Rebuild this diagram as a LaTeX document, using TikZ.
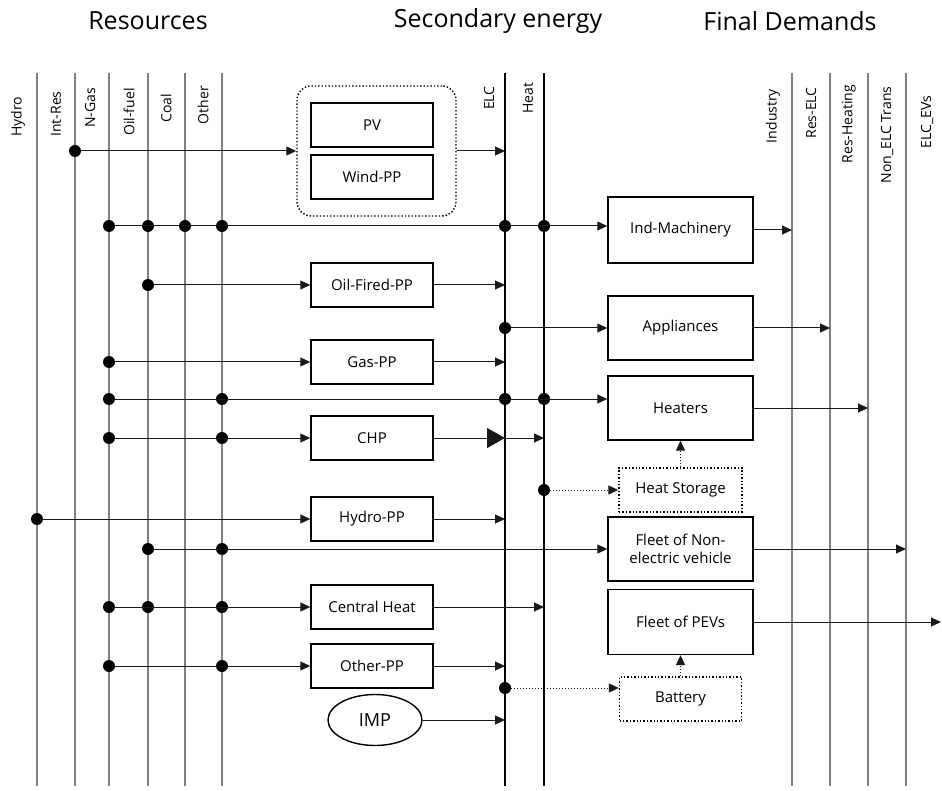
\documentclass[tikz,border=0pt]{standalone}
\usepackage{fontspec}
\setmainfont{Open Sans}
\usetikzlibrary{arrows.meta, shapes.geometric, positioning, calc}
\definecolor{LineGray}{RGB}{128,128,128}
\definecolor{FlowBlack}{RGB}{25,25,25}

\begin{document}
\begin{tikzpicture}[x=1pt,y=-1pt,
    font=\fontsize{15}{18}\selectfont,
    box/.style={draw, line width=1.4pt, minimum width=122pt, minimum height=44pt, inner sep=0pt},
    bigbox/.style={box, minimum width=145pt, minimum height=64pt, align=center},
    storebox/.style={box, dotted, minimum width=123pt},
    jdot/.style={circle, fill, inner sep=0pt, minimum size=12pt},
    flow/.style={-{Triangle[length=10pt,width=9pt]}, FlowBlack, line width=1pt},
    dflow/.style={flow, dotted},
    bigflow/.style={-{Triangle[length=18pt,width=20pt]}, FlowBlack, line width=1pt},
    resline/.style={LineGray, line width=1.8pt},
    secline/.style={black, line width=1.6pt},
    vlab/.style={rotate=90, font=\fontsize{14}{17}\selectfont},
    title/.style={font=\fontsize{25}{29}\selectfont}]
  \useasboundingbox (0,0) rectangle (942,791);

  % headings
  \node[title] (t-res) at (148,21) {Resources};
  \node[title] (t-sec) at (498,21) {Secondary energy};
  \node[title] (t-fin) at (790,21) {Final Demands};

  % carrier lines
  \foreach \nm/\x/\y/\lab in {hydro/37/117/Hydro, intres/75/114/Int-Res, ngas/109/108/N-Gas,
                              oilf/148/112/Oil-fuel, coal/185/108/Coal, othr/222/105/Other,
                              ind/792/116/Industry, reselc/830/113/Res-ELC,
                              resheat/868/124/Res-Heating, nonelc/906/135/Non\_ELC Trans}{
    \coordinate (\nm) at (\x,73);
    \draw[resline] (\nm) -- (\x,786);
    \node[vlab] (\nm-lab) at (\x-19,\y) {\lab};
  }
  \foreach \nm/\x/\lab in {elc/505/ELC, heat/544/Heat}{
    \coordinate (\nm) at (\x,73);
    \draw[secline] (\nm) -- (\x,786);
    \node[vlab] (\nm-lab) at (\x-16,98) {\lab};
  }
  \coordinate (evs) at (941,73);
  \node[vlab] (evs-lab) at (927,122) {ELC\_EVs};

  % conversion technologies
  \node[box, dotted, rounded corners=14pt, minimum width=159pt, minimum height=130pt] (pvgrp) at (376.5,151) {};
  \node[box] (pv) at (372,125) {PV};
  \node[box] (wind) at (372,177) {Wind-PP};
  \node[box] (ofpp) at (372,285) {Oil-Fired-PP};
  \node[box] (gaspp) at (372,362) {Gas-PP};
  \node[box] (chp) at (372,438) {CHP};
  \node[box] (hydpp) at (372,519) {Hydro-PP};
  \node[box] (cheat) at (372,607) {Central Heat};
  \node[box] (opp) at (372,666) {Other-PP};
  \node[draw, ellipse, line width=1.4pt, minimum width=94pt, minimum height=51pt, inner sep=0pt,
        font=\fontsize{18}{21}\selectfont] (imp) at (375,720) {IMP};

  % demand technologies
  \node[bigbox, minimum height=66pt] (indm) at (680.5,230) {Ind-Machinery};
  \node[bigbox] (appl) at (680.5,328) {Appliances};
  \node[bigbox] (heaters) at (680.5,408) {Heaters};
  \node[storebox] (hstor) at (680.5,490) {Heat Storage};
  \node[bigbox] (fleetne) at (680.5,549) {Fleet of Non-\\electric vehicle};
  \node[bigbox, minimum height=65pt] (fleetpev) at (680.5,622) {Fleet of PEVs};
  \node[storebox, minimum width=122pt] (batt) at (680.5,699) {Battery};

  % rows with several taps
  \coordinate (r-ind) at (0,226);
  \coordinate (r-htr) at (0,399);
  \coordinate (r-bat) at (0,688);
  \foreach \ln in {ngas,oilf,coal,othr,elc,heat}
    \node[jdot] (ind-\ln) at (\ln |- r-ind) {};
  \foreach \ln in {ngas,othr,elc,heat}
    \node[jdot] (htr-\ln) at (\ln |- r-htr) {};
  \foreach \ln in {ngas,othr}{
    \node[jdot] (chp-\ln) at (\ln |- chp.west) {};
    \node[jdot] (opp-\ln) at (\ln |- opp.west) {};
  }
  \foreach \ln in {oilf,othr}
    \node[jdot] (fne-\ln) at (\ln |- fleetne.west) {};
  \foreach \ln in {ngas,oilf,othr}
    \node[jdot] (cht-\ln) at (\ln |- cheat.west) {};
  \node[jdot] (pv-ir) at (intres |- pvgrp.west) {};
  \node[jdot] (of-oil) at (oilf |- ofpp.west) {};
  \node[jdot] (gas-ng) at (ngas |- gaspp.west) {};
  \node[jdot] (hyd-hy) at (hydro |- hydpp.west) {};
  \node[jdot] (app-elc) at (elc |- appl.west) {};
  \node[jdot] (hs-heat) at (heat |- hstor.west) {};
  \node[jdot] (bat-elc) at (elc |- r-bat) {};

  % inputs
  \draw[flow] (pv-ir) -- (pvgrp.west);
  \draw[flow] (ind-ngas) -- (indm.west |- r-ind);
  \draw[flow] (of-oil) -- (ofpp.west);
  \draw[flow] (app-elc) -- (appl.west);
  \draw[flow] (gas-ng) -- (gaspp.west);
  \draw[flow] (htr-ngas) -- (heaters.west |- r-htr);
  \draw[flow] (chp-ngas) -- (chp.west);
  \draw[dflow] (hs-heat) -- (hstor.west);
  \draw[dflow] (hstor.north) -- (heaters.south);
  \draw[flow] (hyd-hy) -- (hydpp.west);
  \draw[flow] (fne-oilf) -- (fleetne.west);
  \draw[flow] (cht-ngas) -- (cheat.west);
  \draw[flow] (opp-ngas) -- (opp.west);
  \draw[dflow] (bat-elc) -- (batt.west |- r-bat);
  \draw[dflow] (batt.north) -- (fleetpev.south);

  % outputs
  \draw[flow] (pvgrp.east) -- (pvgrp.east -| elc);
  \draw[flow] (ofpp.east) -- (ofpp.east -| elc);
  \draw[flow] (gaspp.east) -- (gaspp.east -| elc);
  \coordinate (chp-e) at (chp.east -| elc);
  \draw[bigflow] (chp.east) -- (chp-e);
  \draw[flow] (chp-e) -- (chp.east -| heat);
  \draw[flow] (hydpp.east) -- (hydpp.east -| elc);
  \draw[flow] (cheat.east) -- (cheat.east -| heat);
  \draw[flow] (opp.east) -- (opp.east -| elc);
  \draw[flow] (imp.east) -- (imp.east -| elc);
  \draw[flow] (indm.east) -- (indm.east -| ind);
  \draw[flow] (appl.east) -- (appl.east -| reselc);
  \draw[flow] (heaters.east) -- (heaters.east -| resheat);
  \draw[flow] (fleetne.east) -- (fleetne.east -| nonelc);
  \draw[flow] (fleetpev.east) -- (fleetpev.east -| evs);
\end{tikzpicture}
\end{document}
